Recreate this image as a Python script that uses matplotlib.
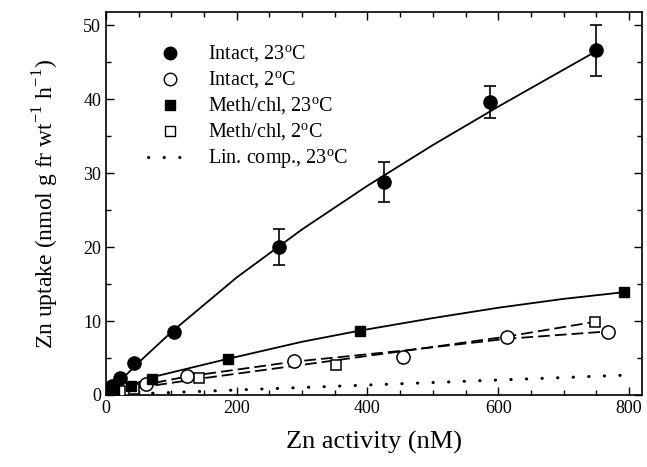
import numpy as np
import matplotlib
matplotlib.use("Agg")
import matplotlib.pyplot as plt
from matplotlib.lines import Line2D
from matplotlib.ticker import MultipleLocator

plt.rcParams['font.family'] = ['Liberation Serif', 'DejaVu Serif']
plt.rcParams['mathtext.fontset'] = 'custom'
plt.rcParams['mathtext.rm'] = 'Liberation Serif'

# measured points
intact23_x = [2, 9, 21, 43, 104, 265, 426, 588, 749]
intact23_y = [0.3, 1.2, 2.3, 4.3, 8.5, 20.0, 28.8, 39.6, 46.6]
intact23_err = [0, 0, 0, 0, 0, 2.4, 2.7, 2.2, 3.4]

intact2_x = [2, 12, 30, 61, 124, 287, 455, 613, 768]
intact2_y = [0.2, 0.4, 1.0, 1.5, 2.6, 4.6, 5.1, 7.8, 8.5]

meth23_x = [3, 12, 38, 71, 187, 388, 792]
meth23_y = [0.2, 0.6, 1.2, 2.2, 4.9, 8.7, 13.9]

meth2_x = [3, 12, 22, 43, 143, 352, 748]
meth2_y = [0.1, 0.3, 0.5, 0.8, 2.3, 4.0, 9.9]

# fitted curves
fit_i23_x = [0, 50, 100, 200, 300, 400, 500, 600, 700, 750]
fit_i23_y = [0, 4.4, 8.5, 15.9, 22.4, 28.3, 33.8, 39.0, 44.0, 46.5]

fit_m23_x = [0, 70, 187, 300, 388, 500, 600, 700, 792]
fit_m23_y = [0, 2.4, 4.9, 7.2, 8.7, 10.4, 11.8, 13.0, 13.9]

fit_i2_x = [0, 60, 124, 287, 455, 613, 768]
fit_i2_y = [0, 1.4, 2.5, 4.5, 6.0, 7.6, 8.6]

fit_m2_x = [0, 43, 143, 352, 500, 613, 748]
fit_m2_y = [0, 0.9, 2.2, 4.7, 6.5, 7.9, 9.9]

lin_x = [0, 800]
lin_y = [0, 2.7]

fig = plt.figure(figsize=(6.47, 4.67), dpi=100)
ax = fig.add_axes([0.1638, 0.1542, 0.8285, 0.8201])

dash = (0, (6.5, 2.8))
ax.plot(fit_i23_x, fit_i23_y, color='black', lw=1.3, zorder=2)
ax.plot(fit_m23_x, fit_m23_y, color='black', lw=1.3, zorder=2)
ax.plot(fit_i2_x, fit_i2_y, color='black', lw=1.3, ls=dash, zorder=2)
ax.plot(fit_m2_x, fit_m2_y, color='black', lw=1.3, ls=dash, zorder=2)
ax.plot(lin_x, lin_y, color='black', lw=2.2, ls=(0, (0.1, 5)),
        dash_capstyle='round', zorder=2)

ax.errorbar(intact23_x, intact23_y, yerr=intact23_err, fmt='o', color='black',
            ms=9.5, ecolor='black', elinewidth=1.2, capsize=4, capthick=1.2, zorder=4)
ax.plot(intact2_x, intact2_y, 'o', mfc='white', mec='black', mew=1.1, ms=9.5, zorder=3)
ax.plot(meth23_x, meth23_y, 's', color='black', ms=7, zorder=4)
ax.plot(meth2_x, meth2_y, 's', mfc='white', mec='black', mew=1.1, ms=7, zorder=3)

handles = [
    Line2D([], [], ls='none', marker='o', color='black', ms=9),
    Line2D([], [], ls='none', marker='o', mfc='white', mec='black', ms=9),
    Line2D([], [], ls='none', marker='s', color='black', ms=7),
    Line2D([], [], ls='none', marker='s', mfc='white', mec='black', ms=7),
    Line2D([], [], color='black', lw=2.2, ls=(0, (0.1, 5)), dash_capstyle='round'),
]
labels = ['Intact, 23$^{\\mathrm{o}}$C', 'Intact, 2$^{\\mathrm{o}}$C',
          'Meth/chl, 23$^{\\mathrm{o}}$C', 'Meth/chl, 2$^{\\mathrm{o}}$C',
          'Lin. comp., 23$^{\\mathrm{o}}$C']
ax.legend(handles, labels, loc='upper left', bbox_to_anchor=(0.045, 0.965),
          frameon=False, fontsize=14.5, handlelength=2.2, labelspacing=0.22,
          handletextpad=0.75)

ax.set_xlim(0, 820)
ax.set_ylim(0, 51.8)
ax.xaxis.set_major_locator(MultipleLocator(200))
ax.xaxis.set_minor_locator(MultipleLocator(50))
ax.yaxis.set_major_locator(MultipleLocator(10))
ax.yaxis.set_minor_locator(MultipleLocator(5))
ax.tick_params(which='both', direction='in', top=True, right=True, labelsize=13)
ax.tick_params(which='major', length=6, width=1)
ax.tick_params(which='minor', length=3.5, width=1)
for s in ax.spines.values():
    s.set_linewidth(1.2)

ax.set_xlabel('Zn activity (nM)', fontsize=19, labelpad=10)
ax.set_ylabel('Zn uptake (nmol g fr wt$^{\\mathrm{-1}}$ h$^{\\mathrm{-1}}$)',
              fontsize=17, labelpad=16)

fig.savefig('out.png', dpi=100)
